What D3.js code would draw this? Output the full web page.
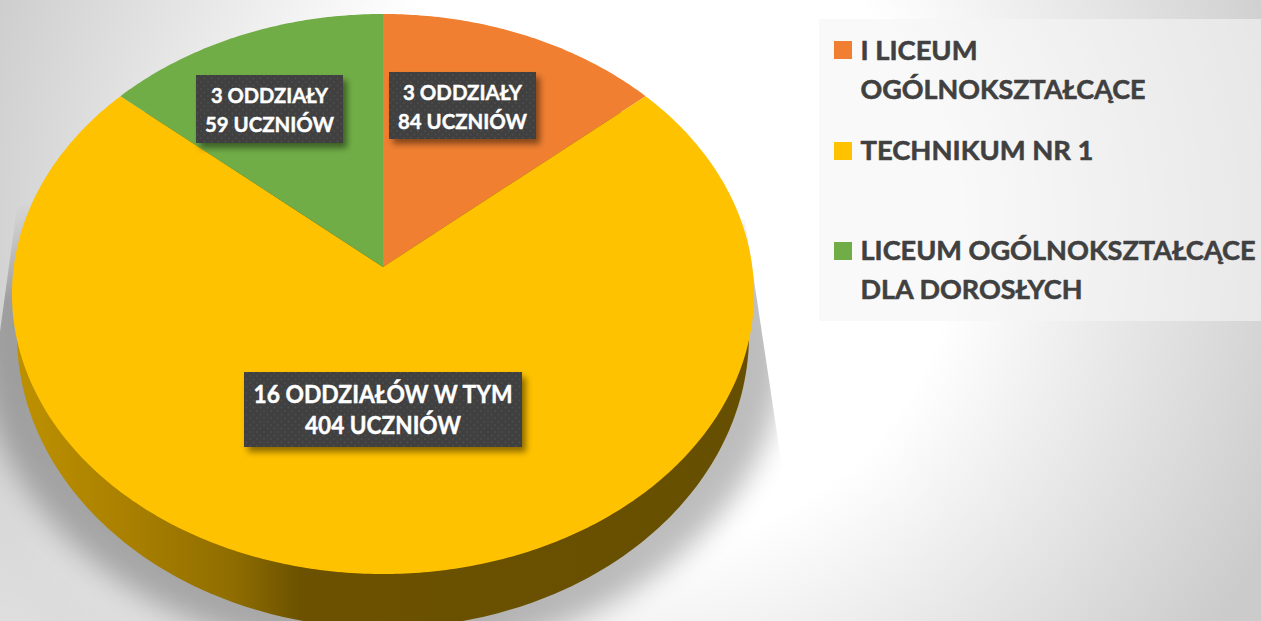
<!DOCTYPE html>
<html>
<head>
<meta charset="utf-8">
<script src="https://cdn.jsdelivr.net/npm/d3@7"></script>
<style>
html,body{margin:0;padding:0;background:#fff;overflow:hidden}
svg{display:block}
text{font-family:Lato,"Open Sans",sans-serif;font-weight:700;paint-order:stroke;stroke-linejoin:round}
</style>
</head>
<body>
<svg id="chart" width="1261" height="621"></svg>
<script>
// ---- data ----
const categories = ["I LICEUM OGÓLNOKSZTAŁCĄCE", "TECHNIKUM NR 1", "LICEUM OGÓLNOKSZTAŁCĄCE DLA DOROSŁYCH"];
const classCounts = [3, 16, 3];
const legendLines = [["I LICEUM", "OGÓLNOKSZTAŁCĄCE"], ["TECHNIKUM NR 1"], ["LICEUM OGÓLNOKSZTAŁCĄCE", "DLA DOROSŁYCH"]];
const labelLines = [["3 ODDZIAŁY", "84 UCZNIÓW"], ["16 ODDZIAŁÓW W TYM", "404 UCZNIÓW"], ["3 ODDZIAŁY", "59 UCZNIÓW"]];
const sliceColors = ["#F07F31", "#FFC200", "#70AD47"];

// ---- layout ----
const W = 1261, H = 621;
const apex = {x: 383, y: 267};
const persp = {k: 0.0964, A: 277.4, B: 369.3};
const wall = {cx: 383, cy: 335, rx: 366, ry: 293};
const labelLayout = [
  {x: 389, y: 72, w: 147, h: 67, size: 21.5, base: [99.5, 128.7], widths: [119, 129]},
  {x: 244, y: 372, w: 278, h: 75, size: 24.5, base: [402.7, 434], widths: [259, 156]},
  {x: 196, y: 75, w: 147, h: 68, size: 21.5, base: [102.7, 131.7], widths: [117, 129]}
];
const legendLayout = [
  {swatchY: 41, base: [60, 99], widths: [117, 285]},
  {swatchY: 142, base: [160], widths: [233]},
  {swatchY: 242, base: [260, 299], widths: [395, 222]}
];

const svg = d3.select("#chart");
const defs = svg.append("defs");

// Projects a pie angle (clockwise from 12 o'clock) on the tilted disc
function project(a) {
  const u = Math.sin(a), v = Math.cos(a), d = 1 + persp.k * v;
  return [apex.x + persp.B * u / d, apex.y - persp.A * v / d];
}

// ---- background ----
const bg = defs.append("radialGradient").attr("id", "bg").attr("gradientUnits", "userSpaceOnUse")
  .attr("cx", 640).attr("cy", 230).attr("r", 700);
bg.append("stop").attr("offset", "0.45").attr("stop-color", "#ffffff");
bg.append("stop").attr("offset", "1").attr("stop-color", "#cbcbcb");
svg.append("rect").attr("width", W).attr("height", H).attr("fill", "url(#bg)");
const glow = defs.append("radialGradient").attr("id", "glow").attr("gradientUnits", "userSpaceOnUse")
  .attr("cx", 0).attr("cy", 640).attr("r", 320);
glow.append("stop").attr("offset", "0").attr("stop-color", "#fff").attr("stop-opacity", 0.4);
glow.append("stop").attr("offset", "1").attr("stop-color", "#fff").attr("stop-opacity", 0);
svg.append("rect").attr("width", W).attr("height", H).attr("fill", "url(#glow)");

// ---- shadow ----
const blur = defs.append("filter").attr("id", "blur").attr("filterUnits", "userSpaceOnUse")
  .attr("x", -200).attr("y", -200).attr("width", 1600).attr("height", 1100);
blur.append("feGaussianBlur").attr("stdDeviation", 14);
const fade = defs.append("linearGradient").attr("id", "fade").attr("gradientUnits", "userSpaceOnUse")
  .attr("x1", 0).attr("x2", 0).attr("y1", 200).attr("y2", 300);
fade.append("stop").attr("offset", "0").attr("stop-color", "#000");
fade.append("stop").attr("offset", "1").attr("stop-color", "#fff");
defs.append("mask").attr("id", "shadowMask").attr("maskUnits", "userSpaceOnUse")
  .attr("x", -300).attr("y", 0).attr("width", 1700).attr("height", 900)
  .append("rect").attr("x", -300).attr("y", 0).attr("width", 1700).attr("height", 900).attr("fill", "url(#fade)");
defs.append("clipPath").attr("id", "shadowClip").append("polygon")
  .attr("points", "17,207 -8,390 -200,800 1000,800 810,650 778,440 745,220 383,100");
svg.append("g").attr("clip-path", "url(#shadowClip)").attr("mask", "url(#shadowMask)")
  .append("ellipse")
  .attr("cx", 383).attr("cy", 345).attr("rx", 402).attr("ry", 312)
  .attr("fill", "#000").attr("opacity", 0.26).attr("filter", "url(#blur)");

// ---- side wall ----
const wallGrad = defs.append("linearGradient").attr("id", "wallGrad").attr("gradientUnits", "userSpaceOnUse")
  .attr("x1", 17 - wall.cx).attr("x2", 750 - wall.cx).attr("y1", 0).attr("y2", 0);
[[0, "#bd9000"], [0.035, "#b98d00"], [0.158, "#a87f00"], [0.295, "#8f6d00"], [0.386, "#6c5200"], [1, "#664f00"]]
  .forEach(s => wallGrad.append("stop").attr("offset", s[0]).attr("stop-color", s[1]));
const ringAngles = d3.range(0, 2 * Math.PI, Math.PI / 180);
const ring = d3.lineRadial().angle(d => d).curve(d3.curveLinearClosed);
svg.append("path")
  .attr("transform", `translate(${wall.cx},${wall.cy}) scale(1,${wall.ry / wall.rx})`)
  .attr("d", ring.radius(wall.rx)(ringAngles))
  .attr("fill", "url(#wallGrad)")
  .attr("stroke", "none");

// ---- top of the pie ----
const pie = d3.pie().sort(null).startAngle(0).endAngle(2 * Math.PI);
const arcs = pie(classCounts);
const line = d3.line();
svg.append("g").selectAll("path").data(arcs).join("path")
  .attr("d", d => {
    const n = Math.max(2, Math.ceil((d.endAngle - d.startAngle) * 90));
    const pts = d3.range(n + 1).map(i => project(d.startAngle + (d.endAngle - d.startAngle) * i / n));
    return line([[apex.x, apex.y], ...pts]) + "Z";
  })
  .attr("fill", (d, i) => sliceColors[i]);

// ---- data labels ----
const dots = defs.append("pattern").attr("id", "dots").attr("patternUnits", "userSpaceOnUse")
  .attr("width", 7).attr("height", 7);
dots.append("rect").attr("width", 7).attr("height", 7).attr("fill", "#404040");
[[1.5, 1.5], [5, 5]].forEach(p => dots.append("circle").attr("cx", p[0]).attr("cy", p[1]).attr("r", 0.9).attr("fill", "#4e4e4e"));
const ds = defs.append("filter").attr("id", "ds").attr("x", "-10%").attr("y", "-15%").attr("width", "125%").attr("height", "140%");
ds.append("feDropShadow").attr("dx", 4).attr("dy", 5).attr("stdDeviation", 3).attr("flood-color", "#000").attr("flood-opacity", 0.45);

const labels = svg.append("g").selectAll("g").data(labelLines).join("g");
labels.append("rect")
  .attr("x", (d, i) => labelLayout[i].x).attr("y", (d, i) => labelLayout[i].y)
  .attr("width", (d, i) => labelLayout[i].w).attr("height", (d, i) => labelLayout[i].h)
  .attr("fill", "url(#dots)").attr("filter", "url(#ds)");
labels.each(function (lines, i) {
  const L = labelLayout[i];
  d3.select(this).selectAll("text").data(lines).join("text")
    .attr("x", L.x + L.w / 2).attr("y", (d, j) => L.base[j])
    .attr("text-anchor", "middle").attr("font-size", L.size).attr("fill", "#fff")
    .attr("stroke", "#fff").attr("stroke-width", 0.45)
    .attr("textLength", (d, j) => L.widths[j]).attr("lengthAdjust", "spacingAndGlyphs")
    .text(d => d);
});

// ---- legend ----
svg.append("rect").attr("x", 819).attr("y", 19).attr("width", W - 819).attr("height", 302)
  .attr("fill", "#f5f5f5").attr("fill-opacity", 0.6);
const legend = svg.append("g").selectAll("g").data(categories).join("g");
legend.append("rect").attr("x", 834).attr("y", (d, i) => legendLayout[i].swatchY)
  .attr("width", 18).attr("height", 18).attr("fill", (d, i) => sliceColors[i]);
legend.each(function (c, i) {
  const L = legendLayout[i];
  d3.select(this).selectAll("text").data(legendLines[i]).join("text")
    .attr("x", 860.5).attr("y", (d, j) => L.base[j])
    .attr("font-size", 27).attr("fill", "#404040")
    .attr("stroke", "#404040").attr("stroke-width", 0.55)
    .attr("textLength", (d, j) => L.widths[j]).attr("lengthAdjust", "spacingAndGlyphs")
    .text(d => d);
});
</script>
</body>
</html>
